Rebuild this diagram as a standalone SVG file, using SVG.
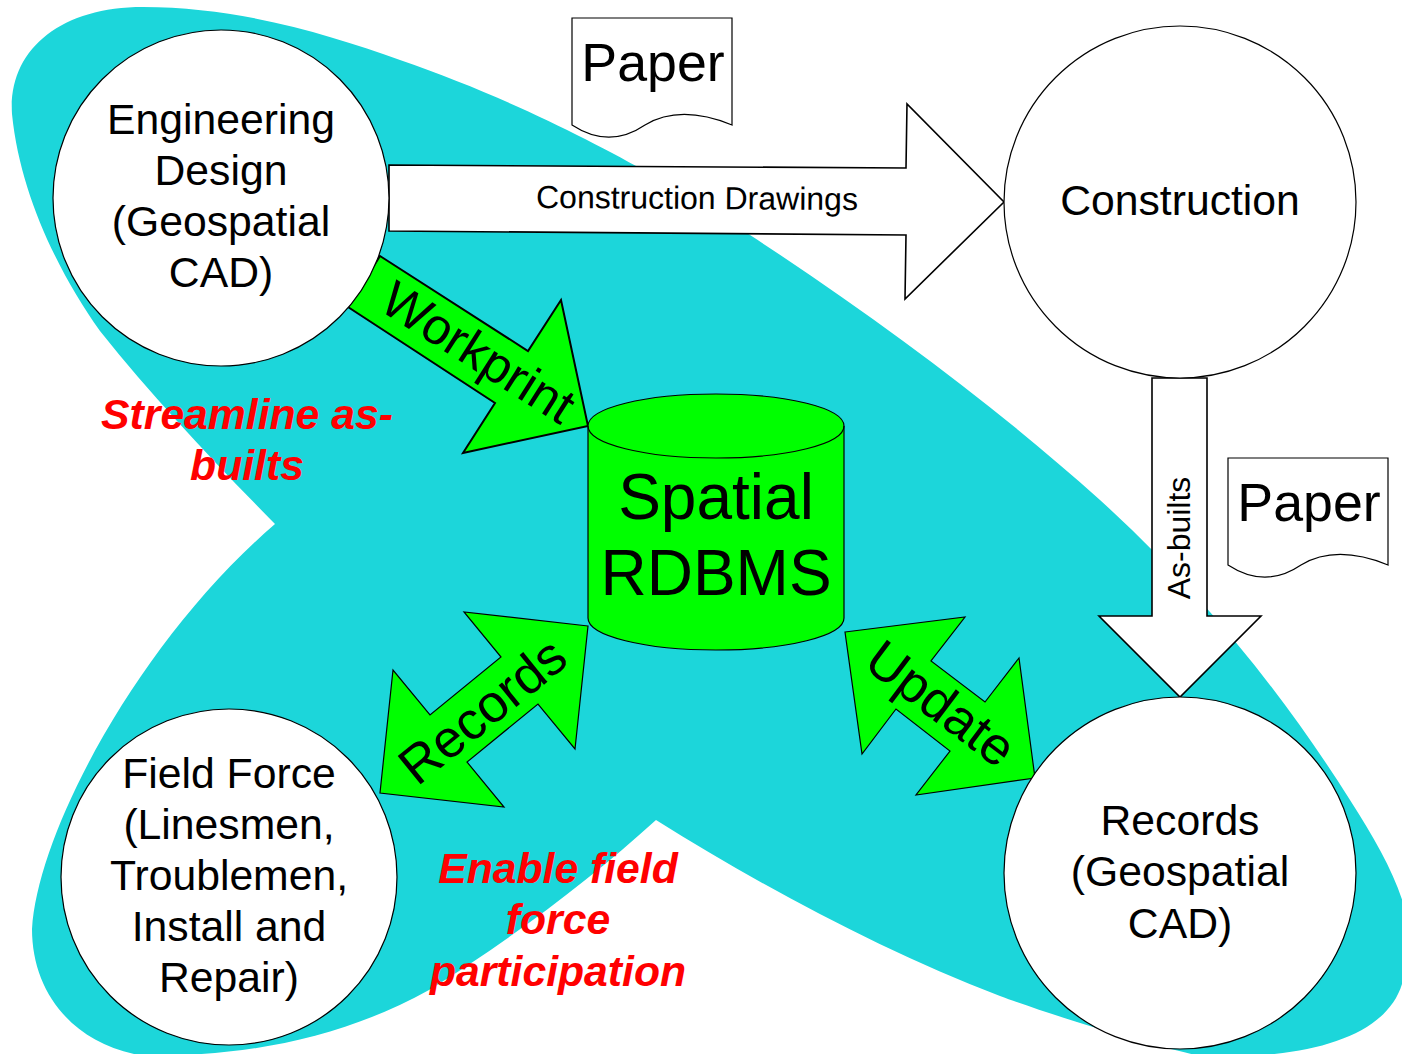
<svg xmlns="http://www.w3.org/2000/svg" width="1402" height="1054" viewBox="0 0 1402 1054">
<style>
text{font-family:"Liberation Sans",Arial,sans-serif;fill:#000;text-anchor:middle}
.n{fill:#fff;stroke:#000;stroke-width:1.2}
.g{fill:#00ff00;stroke:#000;stroke-width:1.2}
.w{fill:#fff;stroke:#000;stroke-width:1.6}
.l{font-size:42.7px}
.r{font-size:42.7px;font-weight:bold;font-style:italic;fill:#ff0000}
.p{font-size:53.7px}
.a{font-size:53px}
</style>
<rect width="1402" height="1054" fill="#fff"/>
<path id="blob" d="M275 524C215 463 155 400 100 331C60 275 20 195 12 114C8 50 60 7 143 7C240 7 330 35 400 60C560 115 690 195 750 235C880 320 1000 410 1100 500C1210 600 1290 705 1350 800C1395 870 1425 930 1402 984C1385 1040 1300 1060 1200 1056C1150 1045 1050 1015 1000 996C880 950 760 885 656 820C590 880 510 940 429 990C340 1040 230 1060 134 1054C70 1040 32 990 32 929C38 830 140 640 275 524Z" fill="#1cd6da"/>
<g id="connectors">
<path class="w" d="M389 165L906 168L907 104L1004 202L905 299L906 235L389 231Z"/>
<text x="697" y="209" font-size="32" transform="rotate(0.4 697 199)">Construction Drawings</text>
<path class="w" d="M1152 378L1207 378L1207 616L1261 616L1180 697L1099 616L1152 616Z"/>
<text transform="translate(1190 538) rotate(-90)" font-size="32">As-builts</text>
<path class="g" style="stroke-width:2" d="M380 256L528 351L561 300L588 426L463 453L495 403L348 307Z"/>
<text transform="translate(469 367) rotate(32.5)" style="font-size:51px">Workprint</text>
<path class="g" d="M588 626L464 612L501 657L430 715L393 670L380 793L504 807L467 762L538 704L575 749Z"/>
<text class="a" transform="translate(494 725) rotate(-39)">Records</text>
<path class="g" d="M845 632L965 617L931 661L985 702L1019 658L1035 778L916 795L950 751L896 709L862 754Z"/>
<text class="a" transform="translate(930 718) rotate(37)">Update</text>
</g>
<g id="engineering"><circle class="n" cx="221" cy="198" r="168"/>
<text class="l" x="221" y="134">Engineering</text><text class="l" x="221" y="185">Design</text><text class="l" x="221" y="236">(Geospatial</text><text class="l" x="221" y="287">CAD)</text></g>
<g id="construction"><circle class="n" cx="1180" cy="202" r="176"/><text class="l" x="1180" y="215">Construction</text></g>
<g id="records"><circle class="n" cx="1180" cy="873" r="176"/>
<text class="l" x="1180" y="835">Records</text><text class="l" x="1180" y="886">(Geospatial</text><text class="l" x="1180" y="938">CAD)</text></g>
<g id="field"><circle class="n" cx="229" cy="877" r="168"/>
<text class="l" x="229" y="788">Field Force</text><text class="l" x="229" y="839">(Linesmen,</text><text class="l" x="229" y="890">Troublemen,</text><text class="l" x="229" y="941">Install and</text><text class="l" x="229" y="992">Repair)</text></g>
<g id="rdbms">
<path class="g" d="M588 426C588 408 645 394 716 394C787 394 844 408 844 426L844 618C844 636 787 650 716 650C645 650 588 636 588 618Z"/>
<path fill="none" stroke="#000" stroke-width="1.2" d="M588 426C588 444 645 458 716 458C787 458 844 444 844 426"/>
<text x="716" y="519" font-size="64">Spatial</text><text x="716" y="595" font-size="64">RDBMS</text></g>
<g id="paper1"><path class="n" d="M572 18L732 18L732 125C700 112 670 110 645 125C620 142 595 140 572 125Z"/><text class="p" x="653" y="81">Paper</text></g>
<g id="paper2"><path class="n" d="M1228 458L1388 458L1388 565C1356 552 1326 550 1301 565C1276 582 1251 580 1228 565Z"/><text class="p" x="1309" y="521">Paper</text></g>
<g id="labels">
<text class="r" x="247" y="429">Streamline as-</text><text class="r" x="247" y="480">builts</text>
<text class="r" x="558" y="883">Enable field</text><text class="r" x="558" y="934">force</text><text class="r" x="558" y="986">participation</text>
</g>
</svg>
